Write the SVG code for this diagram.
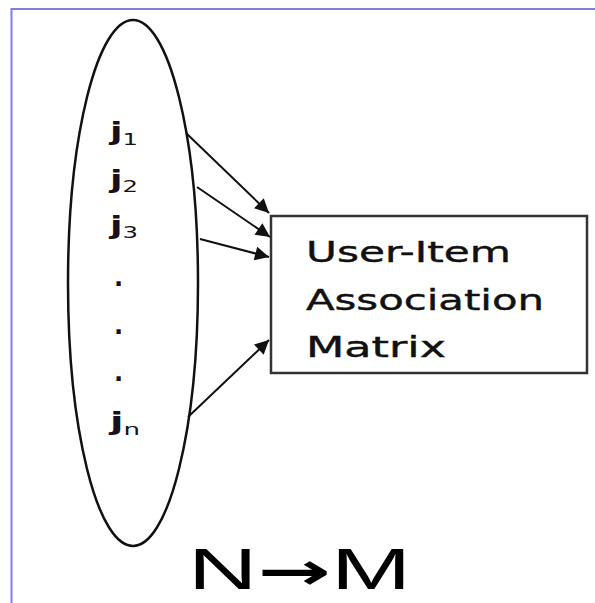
<svg xmlns="http://www.w3.org/2000/svg" width="595" height="603" viewBox="0 0 595 603">
<style>
.frame{stroke:#7f7fe0;stroke-width:2;fill:none}
.shape{fill:none;stroke:#111;stroke-width:2.5}
.box{fill:#fff;stroke:#333;stroke-width:2.5}
.lbl{font-family:"DejaVu Sans",sans-serif;font-size:28px;fill:#111;stroke:#111;stroke-width:0.4}
.j{font-family:"DejaVu Sans",sans-serif;font-size:24px;font-weight:bold;fill:#1a0f1a}
.sub{font-size:16px;font-weight:normal}
.big{font-family:"Liberation Sans",Arial,sans-serif;font-size:57px;fill:#000}
.arr{font-family:"DejaVu Sans",sans-serif;font-weight:bold;font-size:52px}
.conn line{stroke:#111;stroke-width:2;marker-end:url(#ah)}
</style>
<defs>
<marker id="ah" viewBox="0 0 10 10" refX="10" refY="5" markerWidth="20" markerHeight="14" markerUnits="userSpaceOnUse" orient="auto">
<path d="M0,0 L10,5 L0,10 z" fill="#111"/>
</marker>
</defs>
<rect width="595" height="603" fill="#fff"/>
<path class="frame" d="M11.5,603 V9 H595"/>
<g id="items">
<ellipse class="shape" cx="133" cy="283" rx="65" ry="263"/>
<text class="j" x="110" y="140" textLength="28" lengthAdjust="spacingAndGlyphs">j<tspan class="sub" dy="5">1</tspan></text>
<text class="j" x="110" y="188" textLength="28" lengthAdjust="spacingAndGlyphs">j<tspan class="sub" dy="4">2</tspan></text>
<text class="j" x="110" y="234" textLength="28" lengthAdjust="spacingAndGlyphs">j<tspan class="sub" dy="4">3</tspan></text>
<text class="j" x="114" y="286">.</text>
<text class="j" x="114" y="334">.</text>
<text class="j" x="114" y="381">.</text>
<text class="j" x="110" y="430" textLength="30" lengthAdjust="spacingAndGlyphs">j<tspan class="sub" dy="5">n</tspan></text>
</g>
<g id="matrix">
<rect class="box" x="271" y="216" width="316" height="157"/>
<text class="lbl" x="306" y="262" textLength="205" lengthAdjust="spacingAndGlyphs">User-Item</text>
<text class="lbl" x="306" y="310" textLength="238" lengthAdjust="spacingAndGlyphs">Association</text>
<text class="lbl" x="306" y="357" textLength="140" lengthAdjust="spacingAndGlyphs">Matrix</text>
</g>
<g id="connectors" class="conn">
<line x1="186" y1="133" x2="269" y2="213"/>
<line x1="197" y1="187" x2="270" y2="237"/>
<line x1="200" y1="239" x2="269" y2="257"/>
<line x1="188" y1="417" x2="269" y2="340"/>
</g>
<g id="caption">
<text class="big" x="188" y="589" textLength="223" lengthAdjust="spacingAndGlyphs">N<tspan class="arr">→</tspan>M</text>
</g>
</svg>
